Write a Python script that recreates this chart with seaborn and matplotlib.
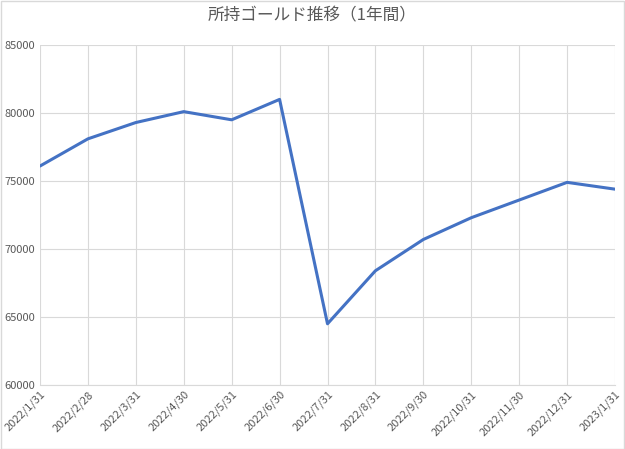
import matplotlib
matplotlib.use("Agg")
import matplotlib.pyplot as plt
import seaborn as sns
import pandas as pd

dates = ["2022/1/31","2022/2/28","2022/3/31","2022/4/30","2022/5/31","2022/6/30",
         "2022/7/31","2022/8/31","2022/9/30","2022/10/31","2022/11/30","2022/12/31","2023/1/31"]
gold = [76100,78100,79300,80100,79500,81000,64500,68400,70700,72300,73600,74900,74400]

sns.set_style("white")
plt.rcParams['font.family'] = ['Noto Sans CJK JP', 'DejaVu Sans']

df = pd.DataFrame({"idx": range(len(dates)), "gold": gold})
fig = plt.figure(figsize=(6.25, 4.49), dpi=100)
ax = fig.add_axes([40/625, 1-385/449, 575/625, 340/449])
sns.lineplot(data=df, x="idx", y="gold", ax=ax, color="#4472C4", linewidth=2.2)
ax.set_xlim(0, len(dates)-1)
ax.set_ylim(60000, 85000)
ax.set_yticks(range(60000, 85001, 5000))
ax.set_xticks(range(len(dates)))
ax.set_xticklabels(dates, rotation=45, ha="right", rotation_mode="anchor", fontsize=8, color="#595959")
ax.tick_params(axis="y", labelsize=8, labelcolor="#595959", length=0)
ax.tick_params(axis="x", length=0, pad=3)
ax.grid(True, color="#D9D9D9", linewidth=0.8)
for s in ["top", "right", "left"]:
    ax.spines[s].set_visible(False)
ax.spines["bottom"].set_color("#D9D9D9")
ax.set_xlabel("")
ax.set_ylabel("")
fig.text(0.5, 1-16/449, "所持ゴールド推移（1年間）", ha="center", va="center", fontsize=12, color="#595959")
fig.patches.append(plt.Rectangle((0.001, 0.001), 0.998, 0.997, transform=fig.transFigure,
                                 fill=False, edgecolor="#D9D9D9", linewidth=1))
fig.savefig("out.png", dpi=100)
